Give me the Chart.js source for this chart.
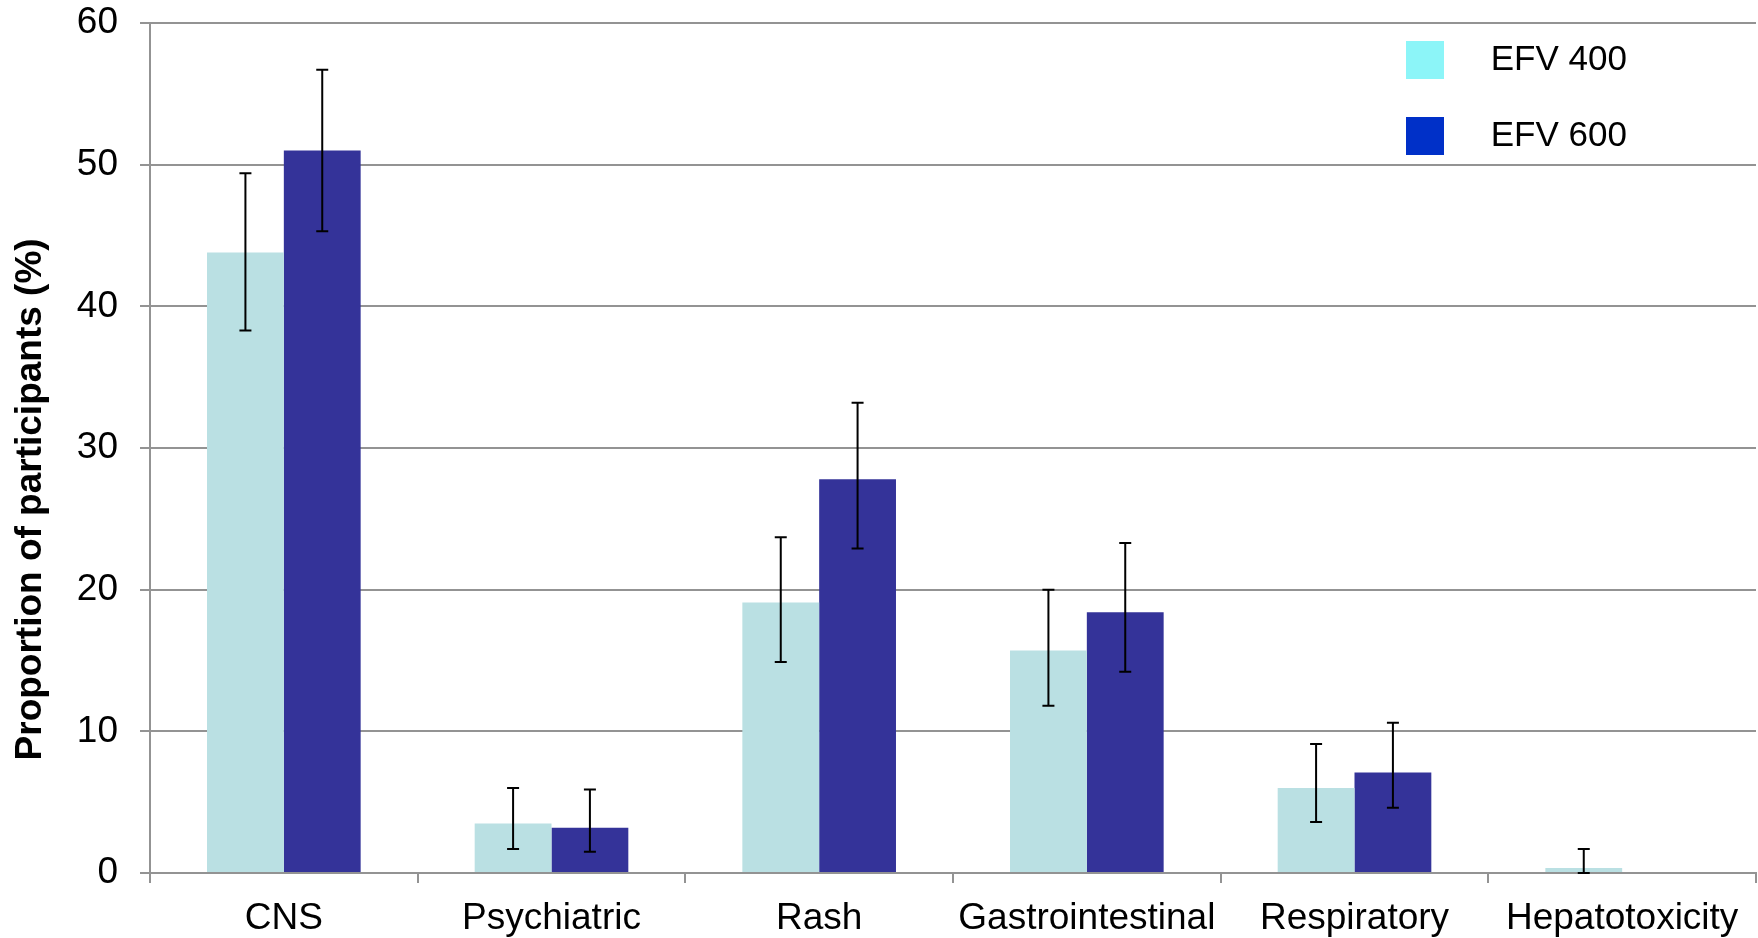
<!DOCTYPE html>
<html>
<head>
<meta charset="utf-8">
<script src="https://cdn.jsdelivr.net/npm/chart.js@4.4.1/dist/chart.umd.min.js"></script>
<style>
  html, body { margin: 0; padding: 0; background: #fff; }
  #wrap { width: 1758px; height: 938px; }
</style>
</head>
<body>
<div id="wrap"><canvas id="chart"></canvas></div>
<script>
const categories = ["CNS", "Psychiatric", "Rash", "Gastrointestinal", "Respiratory", "Hepatotoxicity"];
const seriesNames = ["EFV 400", "EFV 600"];

const efv400 = [43.8, 3.5, 19.1, 15.7, 6.0, 0.35];
const efv400Low = [38.3, 1.7, 14.9, 11.8, 3.6, 0];
const efv400High = [49.4, 6.0, 23.7, 20.0, 9.1, 1.7];

const efv600 = [51.0, 3.2, 27.8, 18.4, 7.1, 0];
const efv600Low = [45.3, 1.5, 22.9, 14.2, 4.6, 0];
const efv600High = [56.7, 5.9, 33.2, 23.3, 10.6, 0];

const yTicks = [0, 10, 20, 30, 40, 50, 60];

const barColors = ["#BAE0E3", "#343399"];
const legendColors = ["#8CF5F8", "#0030C8"];
const gridColor = "#939393";
const fontFamily = "'Liberation Sans', Arial, sans-serif";

const errorRanges = [
  { low: efv400Low, high: efv400High },
  { low: efv600Low, high: efv600High }
];

// whiskers drawn from the low/high arrays through the y scale
const errorBarPlugin = {
  id: "errorBars",
  afterDatasetsDraw(chart) {
    const ctx = chart.ctx;
    const yScale = chart.scales.y;
    ctx.save();
    ctx.strokeStyle = "#000";
    ctx.lineWidth = 2;
    errorRanges.forEach((range, d) => {
      const meta = chart.getDatasetMeta(d);
      meta.data.forEach((bar, i) => {
        if (range.high[i] === range.low[i]) {
          return;
        }
        const top = yScale.getPixelForValue(range.high[i]);
        const bottom = yScale.getPixelForValue(range.low[i]);
        const half = 6;
        ctx.beginPath();
        ctx.moveTo(bar.x, top);
        ctx.lineTo(bar.x, bottom);
        ctx.moveTo(bar.x - half, top);
        ctx.lineTo(bar.x + half, top);
        ctx.moveTo(bar.x - half, bottom);
        ctx.lineTo(bar.x + half, bottom);
        ctx.stroke();
      });
    });
    ctx.restore();
  }
};

// legend sits inside the plot, near the top right corner
const legendPlacePlugin = {
  id: "legendPlace",
  afterLayout(chart) {
    const legend = chart.legend;
    if (!legend) {
      return;
    }
    const w = legend.width;
    const h = legend.height;
    legend.left = 1368;
    legend.right = legend.left + w;
    legend.top = 3;
    legend.bottom = legend.top + h;
  }
};

new Chart(document.getElementById("chart"), {
  type: "bar",
  data: {
    labels: categories,
    datasets: [
      {
        label: seriesNames[0],
        data: efv400,
        backgroundColor: barColors[0],
        borderWidth: 0
      },
      {
        label: seriesNames[1],
        data: efv600,
        backgroundColor: barColors[1],
        borderWidth: 0
      }
    ]
  },
  options: {
    responsive: true,
    maintainAspectRatio: false,
    animation: false,
    events: [],
    layout: { padding: { top: 0, right: 2, bottom: 0, left: 0 } },
    datasets: {
      bar: { categoryPercentage: 0.574, barPercentage: 1.0 }
    },
    scales: {
      x: {
        afterFit(scale) {
          scale.height = 65;
        },
        grid: {
          offset: true,
          drawOnChartArea: false,
          drawTicks: true,
          tickLength: 10,
          color: gridColor,
          lineWidth: 2
        },
        border: { display: true, color: gridColor, width: 2 },
        ticks: {
          color: "#000",
          padding: 14,
          maxRotation: 0,
          autoSkip: false,
          font: { family: fontFamily, size: 37 }
        }
      },
      y: {
        min: 0,
        max: 60,
        afterBuildTicks(scale) {
          scale.ticks = yTicks.map((v) => ({ value: v }));
        },
        afterFit(scale) {
          scale.width = 150;
          scale.paddingTop = 23;
          scale.paddingBottom = 22;
        },
        grid: {
          color: gridColor,
          lineWidth: 2,
          drawTicks: true,
          tickLength: 10
        },
        border: { display: true, color: gridColor, width: 2 },
        ticks: {
          color: "#000",
          padding: 22,
          font: { family: fontFamily, size: 37 }
        },
        title: {
          display: true,
          text: "Proportion of participants (%)          ",
          color: "#000",
          padding: { top: 9, bottom: 2 },
          font: { family: fontFamily, size: 37, weight: "bold" }
        }
      }
    },
    plugins: {
      tooltip: { enabled: false },
      legend: {
        display: true,
        position: "chartArea",
        align: "start",
        labels: {
          boxWidth: 38,
          boxHeight: 38,
          padding: 38,
          color: "#000",
          font: { family: fontFamily, size: 35 },
          generateLabels() {
            return seriesNames.map((name, i) => ({
              text: "   " + name,
              fillStyle: legendColors[i],
              strokeStyle: legendColors[i],
              lineWidth: 0,
              hidden: false,
              datasetIndex: i
            }));
          }
        }
      }
    }
  },
  plugins: [errorBarPlugin, legendPlacePlugin]
});
</script>
</body>
</html>
